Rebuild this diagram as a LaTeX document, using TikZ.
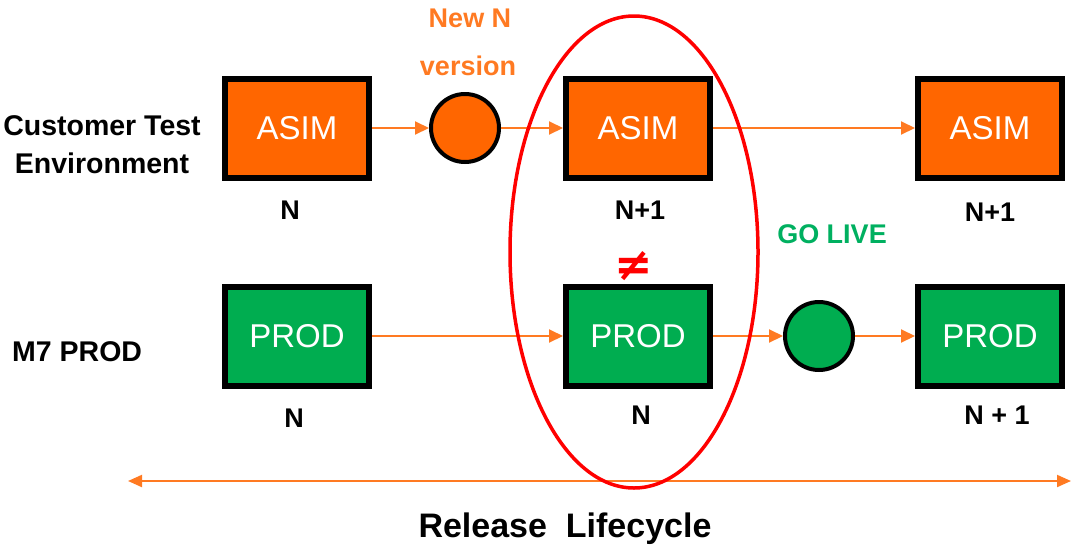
\documentclass[tikz,border=0pt]{standalone}
\usepackage{fontspec}
\setmainfont{Liberation Sans}
\newfontfamily\symfont{DejaVu Sans}
\usetikzlibrary{arrows.meta}
\definecolor{boxorange}{HTML}{FF6600}
\definecolor{boxgreen}{HTML}{00AD50}
\definecolor{lineorange}{HTML}{FF7A22}
\definecolor{txtorange}{HTML}{FF7A22}
\definecolor{livegreen}{HTML}{00B060}
\newcommand{\boxtext}[1]{\raisebox{-4pt}{#1}}
\tikzset{
  envbox/.style={draw=black, line width=6pt, minimum width=144pt, minimum height=99pt, inner sep=0pt, text=white, font=\fontsize{33}{38}\selectfont},
  asim/.style={envbox, fill=boxorange},
  prod/.style={envbox, fill=boxgreen},
  dot/.style={circle, draw=black, line width=4pt, minimum size=68pt, inner sep=0pt},
  conn/.style={draw=lineorange, line width=2pt, -{Triangle[length=14pt,width=13pt]}},
  lbl/.style={inner sep=0pt, font=\bfseries\fontsize{27}{32}\selectfont},
  rowlbl/.style={inner sep=0pt, font=\bfseries\fontsize{28.5}{34}\selectfont},
}
\begin{document}
\begin{tikzpicture}[x=1pt,y=-1pt]
\useasboundingbox (0,0) rectangle (1073,544);
% row labels
\node[rowlbl, align=center] (cte) at (102,145) {Customer Test\\[4pt]Environment};
\node[rowlbl, anchor=west] (m7) at (12,352) {M7 PROD};
% top row
\node[asim] (a1) at (297,128) {\boxtext{ASIM}};
\node[dot, fill=boxorange] (c1) at (465,128) {};
\node[asim] (a2) at (638,128) {\boxtext{ASIM}};
\node[asim] (a3) at (990,128) {\boxtext{ASIM}};
% bottom row
\node[prod] (p1) at (297,336) {\boxtext{PROD}};
\node[prod] (p2) at (638,336) {\boxtext{PROD}};
\node[dot, fill=boxgreen] (c2) at (819,336) {};
\node[prod] (p3) at (990,336) {\boxtext{PROD}};
% labels
\node[lbl, text=txtorange] (newn) at (470,18) {New N};
\node[lbl, text=txtorange] (ver) at (468,66) {version};
\node[lbl, text=livegreen] (golive) at (832,234) {GO LIVE};
\node[lbl] (la1) at (290,210) {N};
\node[lbl] (la2) at (640,210) {N+1};
\node[lbl] (la3) at (990,212) {N+1};
\node[lbl] (lp1) at (294,418) {N};
\node[lbl] (lp2) at (641,415) {N};
\node[lbl] (lp3) at (997,415) {N + 1};
\node[inner sep=0pt, text=red, font=\symfont\bfseries\fontsize{46}{50}\selectfont] (neq) at (634,266) {≠};
% connectors
\draw[conn] (a1.east) -- (c1.west);
\draw[conn] (c1.east) -- (a2.west);
\draw[conn] (a2.east) -- (a3.west);
\draw[conn] (p1.east) -- (p2.west);
\draw[conn] (p2.east) -- (c2.west);
\draw[conn] (c2.east) -- (p3.west);
% lifecycle arrow
\coordinate (lcl) at (128,481);
\coordinate (lcr) at (1071,481);
\draw[draw=lineorange, line width=2pt, {Triangle[length=14pt,width=12pt]}-{Triangle[length=14pt,width=12pt]}] (lcl) -- (lcr);
\node[inner sep=0pt, font=\bfseries\fontsize{34}{40}\selectfont] (rl) at (565,529) {Release\ \ Lifecycle};
% red ellipse
\draw[red, line width=3.5pt] (634,252) ellipse [x radius=124, y radius=236];
\end{tikzpicture}
\end{document}
